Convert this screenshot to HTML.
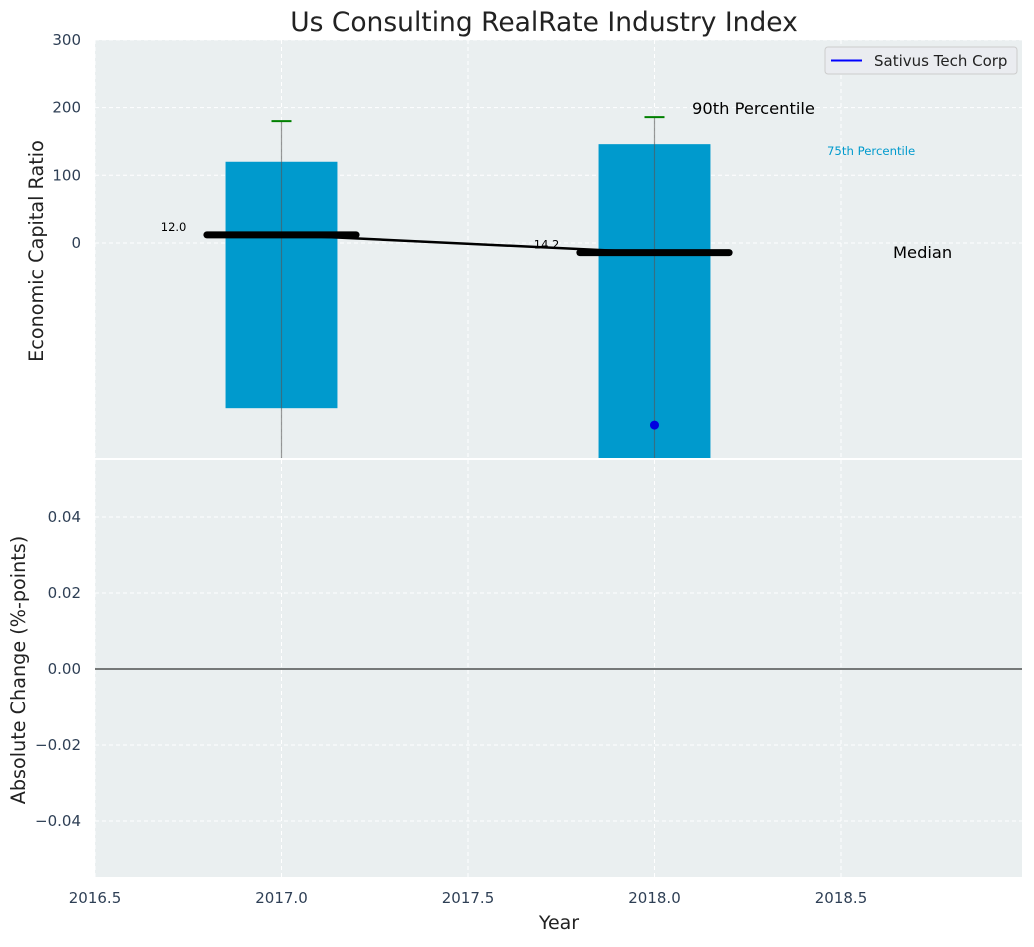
<!DOCTYPE html>
<html><head><meta charset="utf-8">
<style>
html,body{margin:0;padding:0;background:#fff;}
svg text{font-family:"DejaVu Sans","Liberation Sans",sans-serif;}
</style></head>
<body>
<svg id="chart" width="1034" height="942" xmlns="http://www.w3.org/2000/svg"></svg>
<script>
const years = [2017, 2018];
const p75 = [120, 146];
const p25 = [-244, -330];
const p90 = [180, 186];
const medians = [12.0, -14.2];
const medianLabels = ["12.0", "14.2"];
const companyYears = [2018];
const companyValues = [-269];
const xTicks = [2016.5, 2017.0, 2017.5, 2018.0, 2018.5];
const yTopTicks = [0, 100, 200, 300];
const yBotTicks = [-0.04, -0.02, 0.00, 0.02, 0.04];

const NS = "http://www.w3.org/2000/svg";
const svg = document.getElementById('chart');
function el(tag, attrs, parent) {
  const e = document.createElementNS(NS, tag);
  for (const k in attrs) e.setAttribute(k, attrs[k]);
  (parent || svg).appendChild(e);
  return e;
}
const L = 95, R = 1022;
const xMin = 2016.5, xMax = 2016.5 + (R - L) / 373;
const X = v => L + (v - xMin) / (xMax - xMin) * (R - L);
const TT = 40, TB = 458;
const yTop = v => 243 - v * 0.677;
const BT = 460, BB = 877;
const yBot = v => 669 - v * 3800;

const bg1 = el('rect', {x: L, y: TT, width: R - L, height: TB - TT, fill: '#eaeff0'});


const bg2 = el('rect', {x: L, y: BT, width: R - L, height: BB - BT, fill: '#eaeff0'});



xTicks.forEach(t => {
  [[TT, TB], [BT, BB]].forEach(r => {
    const g = el('line', {x1: X(t), x2: X(t), y1: r[0], y2: r[1], stroke: '#fff', 'stroke-dasharray': '4,3', 'stroke-width': 1});
    
    
  });
  const tx = el('text', {x: X(t), y: 903, 'font-size': 15, fill: '#2e3f55', 'text-anchor': 'middle'});
  tx.textContent = t.toFixed(1);
  
  
});
yTopTicks.forEach(t => {
  const g = el('line', {x1: L, x2: R, y1: yTop(t), y2: yTop(t), stroke: '#fff', 'stroke-dasharray': '4,3'});
  
  
  const tx = el('text', {x: 81, y: yTop(t) + 5, 'font-size': 15, fill: '#2e3f55', 'text-anchor': 'end'});
  tx.textContent = t;
  
  
});
yBotTicks.forEach(t => {
  const g = el('line', {x1: L, x2: R, y1: yBot(t), y2: yBot(t), stroke: '#fff', 'stroke-dasharray': '4,3'});
  
  
  const tx = el('text', {x: 81, y: yBot(t) + 5, 'font-size': 15, fill: '#2e3f55', 'text-anchor': 'end'});
  tx.textContent = (t < 0 ? '\u2212' : '') + Math.abs(t).toFixed(2);
  
  
});

const defs = el('defs', {});
const cp = el('clipPath', {id: 'clipTop'}, defs);
el('rect', {x: L, y: TT, width: R - L, height: TB - TT}, cp);
const gTop = el('g', {'clip-path': 'url(#clipTop)'});

years.forEach((yr, i) => {
  const b = el('rect', {x: X(yr - 0.15), width: X(yr + 0.15) - X(yr - 0.15), y: yTop(p75[i]), height: yTop(p25[i]) - yTop(p75[i]), fill: '#009acd'}, gTop);
  
  
  const w = el('line', {x1: X(yr), x2: X(yr), y1: yTop(p90[i]), y2: TB + 20, stroke: '#555', 'stroke-opacity': 0.6, 'stroke-width': 1.2}, gTop);
  
  
  const cap = el('line', {x1: X(yr) - 10, x2: X(yr) + 10, y1: yTop(p90[i]), y2: yTop(p90[i]), stroke: 'green', 'stroke-width': 2}, gTop);
  
  
});
const ml = el('polyline', {points: years.map((y, i) => X(y) + ',' + yTop(medians[i])).join(' '), fill: 'none', stroke: '#000', 'stroke-width': 2.5}, gTop);


years.forEach((yr, i) => {
  const m = el('line', {x1: X(yr - 0.2), x2: X(yr + 0.2), y1: yTop(medians[i]), y2: yTop(medians[i]), stroke: '#000', 'stroke-width': 7, 'stroke-linecap': 'round'}, gTop);
  
  
  const t = el('text', {x: X(yr - 0.255), y: yTop(medians[i]) - 4, 'font-size': 11.5, fill: '#000', 'text-anchor': 'end'}, gTop);
  t.textContent = medianLabels[i];
  
  
});
companyYears.forEach((yr, i) => {
  const c = el('circle', {cx: X(yr), cy: yTop(companyValues[i]), r: 4.5, fill: '#0000e0'}, gTop);
  
  
});

function txt(x, y, s, size, fill, name, anchor) {
  const t = el('text', {x: x, y: y, 'font-size': size, fill: fill, 'text-anchor': anchor || 'start'});
  t.textContent = s;
  
  
  return t;
}
txt(692, 114, '90th Percentile', 16.3, '#000', 'p90-annotation');
txt(827, 155, '75th Percentile', 11.7, '#009ACD', 'p75-annotation');
txt(893, 258, 'Median', 16.3, '#000', 'median-annotation');

const zl = el('line', {x1: L, x2: R, y1: yBot(0), y2: yBot(0), stroke: '#000', 'stroke-width': 1});



const sep = el('line', {x1: L, x2: R, y1: 459, y2: 459, stroke: '#fff', 'stroke-width': 2});



const lg = el('g', {});


el('rect', {x: 825, y: 47, width: 192, height: 27, rx: 3, fill: '#eaecf0', stroke: '#ccc'}, lg);
const ll = el('line', {x1: 831, x2: 862, y1: 60.5, y2: 60.5, stroke: '#0000ff', 'stroke-width': 2}, lg);


const lt = el('text', {x: 874, y: 66, 'font-size': 15, fill: '#222'}, lg);
lt.textContent = 'Sativus Tech Corp';



txt(544, 31, 'Us Consulting RealRate Industry Index', 26.5, '#222', 'chart-title', 'middle');
txt(559, 929, 'Year', 19, '#222', 'x-axis-title', 'middle');
const yt1 = txt(0, 0, 'Economic Capital Ratio', 19.2, '#222', 'y-top-axis-title', 'middle');
yt1.setAttribute('transform', 'translate(43,251) rotate(-90)');
const yt2 = txt(0, 0, 'Absolute Change (%-points)', 19.2, '#222', 'y-bottom-axis-title', 'middle');
yt2.setAttribute('transform', 'translate(25,670) rotate(-90)');
</script>
</body></html>
